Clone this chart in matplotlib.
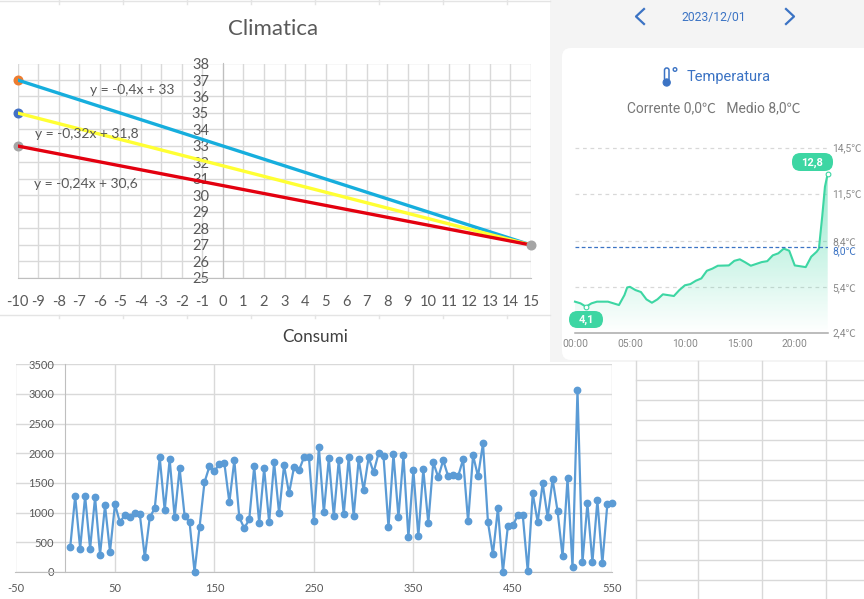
"""Collage: Climatica lines, Temperatura app screenshot, Consumi scatter, spare sheet grid."""
import numpy as np
import matplotlib
matplotlib.use("Agg")
import matplotlib.pyplot as plt
from matplotlib.patches import FancyBboxPatch, Rectangle, Circle

plt.rcParams["axes.unicode_minus"] = False

W, H = 864, 599

# Climatica
CLIM_X = [-10, 15]
CLIM_A = [37, 27]
CLIM_B = [35, 27]
CLIM_C = [33, 27]

# Temperatura
TEMP_H = [0, 0.5, 1, 1.5, 2, 3, 3.5, 4, 4.5, 4.75, 5, 5.5, 6, 6.5, 7, 7.5, 8, 9, 9.5, 10,
          10.5, 11, 11.5, 12, 12.5, 13, 14, 14.5, 15, 15.5, 16, 17, 17.5, 18, 18.5, 19, 19.5, 20, 21, 21.5,
          22, 22.2, 22.5, 22.75, 23]
TEMP_V = [4.43, 4.32, 4.1, 4.32, 4.43, 4.43, 4.32, 4.21, 4.86, 5.36, 5.4, 5.19, 5.06, 4.58, 4.36, 4.58, 4.91, 4.8, 5.19, 5.5,
          5.58, 5.8, 5.95, 6.45, 6.59, 6.78, 6.8, 7.1, 7.2, 7.0, 6.78, 7.02, 7.08, 7.46, 7.59, 7.9, 7.76, 6.8, 6.69, 7.37,
          7.7, 7.9, 10.0, 11.95, 12.8]
TEMP_YT = [2.4, 5.4, 8.4, 11.5, 14.5]
TEMP_YL = ["2,4℃", "5,4℃", "8,4℃", "11,5℃", "14,5℃"]
TEMP_XT = [0, 5, 10, 15, 20]
TEMP_XL = ["00:00", "05:00", "10:00", "15:00", "20:00"]
TEMP_AVG = 8.0

# Consumi
CONS_X = [5, 10, 15, 20, 25, 30, 35, 40, 45, 50,
          55, 60, 65, 70, 75, 80, 85, 90, 95, 100,
          105, 110, 115, 120, 125, 130, 135, 140, 145, 150,
          155, 160, 165, 170, 175, 180, 185, 190, 195, 200,
          205, 210, 215, 220, 225, 230, 235, 240, 245, 250,
          255, 260, 265, 270, 275, 280, 285, 290, 295, 300,
          305, 310, 315, 320, 325, 330, 335, 340, 345, 350,
          355, 360, 365, 370, 375, 380, 385, 390, 395, 400,
          405, 410, 415, 420, 425, 430, 435, 440, 445, 450,
          455, 460, 465, 470, 475, 480, 485, 490, 495, 500,
          505, 510, 515, 520, 525, 530, 535, 540, 545, 550]
CONS_Y = [415, 1280, 393, 1280, 393, 1258, 292, 1123, 343, 1140,
          837, 966, 921, 988, 971, 247, 921, 1073, 1932, 1039,
          1899, 921, 1747, 949, 837, 0, 753, 1511, 1781, 1696,
          1826, 1831, 1174, 1882, 921, 736, 888, 1781, 820, 1747,
          837, 1848, 988, 1798, 1326, 1764, 1713, 1932, 1932, 854,
          2101, 1005, 1916, 938, 1882, 972, 1932, 938, 1899, 1376,
          1932, 1679, 2000, 1949, 753, 1983, 921, 1966, 584, 1713,
          601, 1730, 820, 1848, 1595, 1882, 1612, 1629, 1612, 1899,
          854, 1966, 1612, 2168, 837, 298, 1073, 0, 770, 787,
          955, 955, 11, 1326, 837, 1494, 921, 1562, 1022, 264,
          1579, 79, 3062, 163, 1157, 163, 1208, 146, 1140, 1157]

GRID = "#D9D9D9"
AXIS = "#BFBFBF"
TXT = "#595959"
BLUE = "#3B73C4"
MINT = "#3DD6A3"
XL_FONT = ["Lato", "DejaVu Sans"]
APP_FONT = ["Roboto", "Noto Sans CJK SC", "DejaVu Sans"]

fig = plt.figure(figsize=(W / 100, H / 100), dpi=100, facecolor="white")


def px_axes(l, t, r, b):
    ax = fig.add_axes([l / W, 1 - b / H, (r - l) / W, (b - t) / H])
    ax.patch.set_alpha(0)
    return ax


# page layer in pixel coordinates
bg = fig.add_axes([0, 0, 1, 1])
bg.set_xlim(0, W); bg.set_ylim(H, 0); bg.axis("off")

bg.add_patch(Rectangle((550, 0), W - 550, 362, fc="#F4F4F4", ec="none"))
bg.add_patch(FancyBboxPatch((562, 48), 330, 312, boxstyle="round,pad=0,rounding_size=9", fc="white", ec="none"))

# sheet cell borders
for y in [1, 315]:
    bg.plot([0, 550], [y, y], color="#E4E4E4", lw=1)
for x in [59, 123, 187, 251, 315, 379, 443, 507]:
    bg.plot([x, x], [0, 4], color="#E4E4E4", lw=1)
    bg.plot([x, x], [315, 318], color="#E4E4E4", lw=1)

# spare sheet grid, bottom right
for x in [636, 698, 762, 826]:
    bg.plot([x, x], [361, 599], color=GRID, lw=1)
for y in [380, 400, 420, 440, 460, 480, 500, 520, 540, 560, 580]:
    bg.plot([636, W], [y, y], color=GRID, lw=1)

bg.text(273, 29, "Climatica", family=XL_FONT, fontsize=16, color=TXT, ha="center", va="center")
bg.text(315, 337, "Consumi", family=XL_FONT, fontsize=12.3, color="#404040", ha="center", va="center")

# date header
bg.plot([644, 636, 644], [9, 16.5, 24], color=BLUE, lw=1.6)
bg.plot([786, 794, 786], [9, 16.5, 24], color=BLUE, lw=1.6)
bg.text(714, 17, "2023/12/01", family=APP_FONT, fontsize=8.7, color=BLUE, ha="center", va="center")

# thermometer icon
bg.add_patch(FancyBboxPatch((664.5, 68), 4.5, 13, boxstyle="round,pad=0,rounding_size=2.2", fc="white", ec=BLUE, lw=1.1))
bg.add_patch(Circle((666.7, 82.5), 3.6, fc=BLUE, ec=BLUE, lw=0.8))
bg.add_patch(Circle((675, 69.5), 1.8, fc="white", ec=BLUE, lw=1))
bg.text(687, 77, "Temperatura", family=APP_FONT, fontsize=10.5, color=BLUE, ha="left", va="center")
bg.text(714, 108, "Corrente 0,0℃   Medio 8,0℃", family=APP_FONT, fontsize=10, color="#777777",
        ha="center", va="center")

# Climatica chart
ax = px_axes(17.5, 63.5, 531, 278)
ax.set_xlim(-10, 15); ax.set_ylim(25, 38)
ax.set_xticks(range(-10, 16)); ax.set_yticks(range(25, 39))
ax.grid(True, color=GRID, lw=1)
ax.set_axisbelow(True)
ax.spines["left"].set_position(("data", 0))
ax.spines["left"].set_color(AXIS)
ax.spines["bottom"].set_color(AXIS)
ax.spines["top"].set_visible(False); ax.spines["right"].set_visible(False)
ax.tick_params(axis="x", length=0, pad=12, labelcolor=TXT, labelsize=10.5)
ax.tick_params(axis="y", length=0, pad=10, labelcolor=TXT, labelsize=10.5)
for lab in ax.get_xticklabels() + ax.get_yticklabels():
    lab.set_family(XL_FONT)
ax.plot(CLIM_X, CLIM_A, "-", color="#16AEDD", lw=2.4, zorder=3)
ax.plot(CLIM_X, CLIM_B, "-", color="#FFFF33", lw=2.4, zorder=3.1)
ax.plot(CLIM_X, CLIM_C, "-", color="#E3000F", lw=2.4, zorder=3.2)
ax.plot(CLIM_X[0], CLIM_A[0], "o", color="#ED7D31", ms=6.2, clip_on=False, zorder=2.9)
ax.plot(CLIM_X[0], CLIM_B[0], "o", color="#4472C4", ms=6.2, clip_on=False, zorder=2.9)
ax.plot(CLIM_X[0], CLIM_C[0], "o", color="#A5A5A5", ms=6.2, clip_on=False, zorder=2.9)
ax.plot(CLIM_X[1], CLIM_C[1], "o", color="#A5A5A5", ms=6.2, clip_on=False, zorder=3.5)
for (l, t, s) in [(90.5, 90, "y = -0,4x + 33"), (35, 134, "y = -0,32x + 31,8"), (33.5, 184, "y = -0,24x + 30,6")]:
    fig.text(l / W, 1 - t / H, s, family=XL_FONT, fontsize=10, color=TXT, va="center", zorder=5)

# Temperatura chart
tx = px_axes(575, 147.7, 827.7, 332.7)
tx.set_xlim(0, 23); tx.set_ylim(2.4, 14.5)
tx.set_xticks(TEMP_XT); tx.set_xticklabels(TEMP_XL)
tx.yaxis.tick_right()
tx.set_yticks(TEMP_YT); tx.set_yticklabels(TEMP_YL)
tx.tick_params(axis="both", length=0, labelsize=7.4, labelcolor="#888888", pad=3.5)
tx.tick_params(axis="x", pad=4.5)
for lab in tx.get_xticklabels() + tx.get_yticklabels():
    lab.set_family(APP_FONT)
tx.annotate("8,0℃", (1, TEMP_AVG), xycoords=("axes fraction", "data"), xytext=(3.5, -3.2), textcoords="offset points",
            family=APP_FONT, fontsize=7.4, color=BLUE, va="center", annotation_clip=False)
for s in ["top", "left", "right"]:
    tx.spines[s].set_visible(False)
tx.spines["bottom"].set_color("#AAAAAA")
tx.spines["bottom"].set_linewidth(1.1)
for v in TEMP_YT[1:]:
    tx.axhline(v, color="#D8D8D8", lw=0.9, ls=(0, (3, 3)), zorder=1, clip_on=False)
tx.axhline(TEMP_AVG, color=BLUE, lw=0.9, ls=(0, (3, 2)), zorder=4)

# gradient under the line, fading to white at the baseline
grad = np.zeros((256, 1, 4))
grad[..., :3] = matplotlib.colors.to_rgb(MINT)
grad[..., 3] = np.linspace(0.55, 0.0, 256)[:, None]
im = tx.imshow(grad, extent=(0, 23, 2.4, 12.8), origin="upper", aspect="auto", zorder=2)
poly = tx.fill_between(TEMP_H, TEMP_V, 2.4, color="none")
im.set_clip_path(poly.get_paths()[0], transform=tx.transData)
tx.set_xlim(0, 23); tx.set_ylim(2.4, 14.5)
tx.plot(TEMP_H, TEMP_V, "-", color=MINT, lw=1.5, solid_joinstyle="round", zorder=3, clip_on=False)
tx.plot([1, 23], [4.1, 12.8], "o", mfc="white", mec=MINT, mew=0.8, ms=3.4, ls="none", zorder=5, clip_on=False)

for (l, t, r, b, s) in [(792, 153, 833, 171, "12,8"), (569, 311, 603, 328, "4,1")]:
    bg.add_patch(FancyBboxPatch((l, t), r - l, b - t, boxstyle="round,pad=0,rounding_size=8.5",
                                fc=MINT, ec="none", zorder=10))
    bg.text((l + r) / 2, (t + b) / 2 + 0.5, s, family=APP_FONT, fontsize=8, fontweight="bold", color="white",
            ha="center", va="center", zorder=11)
bg.set_zorder(0); tx.set_zorder(1); ax.set_zorder(1)

# Consumi chart
cx = px_axes(15.5, 364.3, 612.3, 572)
cx.set_xlim(-50, 550); cx.set_ylim(0, 3500)
cx.set_xticks(range(-50, 551, 100)); cx.set_yticks(range(0, 3501, 500))
cx.grid(True, color=GRID, lw=1)
cx.set_axisbelow(True)
cx.spines["left"].set_position(("data", 0))
cx.spines["left"].set_color(AXIS)
cx.spines["bottom"].set_color(AXIS)
cx.spines["top"].set_visible(False); cx.spines["right"].set_visible(False)
cx.tick_params(axis="x", length=0, pad=8, labelcolor=TXT, labelsize=8)
cx.tick_params(axis="y", length=0, pad=8, labelcolor=TXT, labelsize=8)
for lab in cx.get_xticklabels() + cx.get_yticklabels():
    lab.set_family(XL_FONT)
cx.plot(CONS_X, CONS_Y, "-o", color="#5B9BD5", lw=1.6, ms=4.6, clip_on=False, zorder=3)

fig.savefig("out.png", dpi=100)
